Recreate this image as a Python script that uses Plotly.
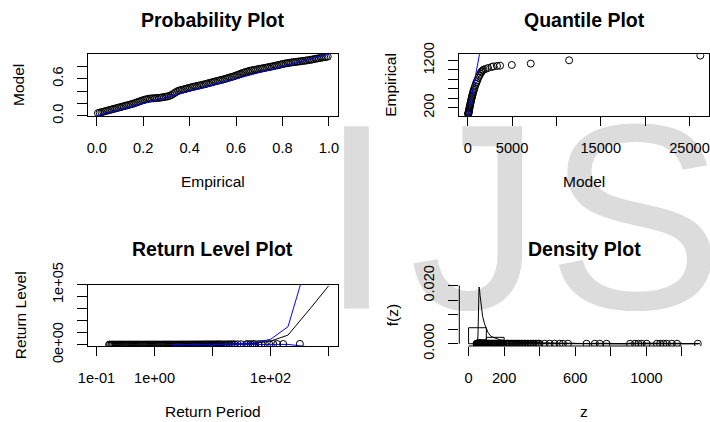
import plotly.graph_objects as go

W, H = 710, 422
FONT = "Liberation Sans, Arial, sans-serif"

# ---------------- data ----------------
# Probability plot: empirical vs model non-exceedance probabilities
pp_empirical = [0.005, 0.0125, 0.02, 0.0275, 0.035, 0.0425, 0.05, 0.0575, 0.065, 0.0725,
                0.08, 0.0875, 0.095, 0.1025, 0.11, 0.1175, 0.125, 0.1325, 0.14, 0.1475,
                0.155, 0.1625, 0.17, 0.1775, 0.185, 0.1925, 0.2, 0.2075, 0.215, 0.2225,
                0.23, 0.2375, 0.245, 0.2525, 0.26, 0.2675, 0.275, 0.2825, 0.29, 0.2975,
                0.305, 0.3125, 0.32, 0.3275, 0.335, 0.3425, 0.35, 0.3575, 0.365, 0.3725,
                0.38, 0.3875, 0.395, 0.4025, 0.41, 0.4175, 0.425, 0.4325, 0.44, 0.4475,
                0.455, 0.4625, 0.47, 0.4775, 0.485, 0.4925, 0.5, 0.5075, 0.515, 0.5225,
                0.53, 0.5375, 0.545, 0.5525, 0.56, 0.5675, 0.575, 0.5825, 0.59, 0.5975,
                0.605, 0.6125, 0.62, 0.6275, 0.635, 0.6425, 0.65, 0.6575, 0.665, 0.6725,
                0.68, 0.6875, 0.695, 0.7025, 0.71, 0.7175, 0.725, 0.7325, 0.74, 0.7475,
                0.755, 0.7625, 0.77, 0.7775, 0.785, 0.7925, 0.8, 0.8075, 0.815, 0.8225,
                0.83, 0.8375, 0.845, 0.8525, 0.86, 0.8675, 0.875, 0.8825, 0.89, 0.8975,
                0.905, 0.9125, 0.92, 0.9275, 0.935, 0.9425, 0.95, 0.9575, 0.965, 0.9725,
                0.98, 0.9875, 0.995]
pp_model = [0.045, 0.052, 0.06, 0.067, 0.075, 0.082, 0.09, 0.097, 0.105, 0.112,
            0.12, 0.127, 0.135, 0.142, 0.15, 0.157, 0.165, 0.172, 0.18, 0.187,
            0.195, 0.205, 0.215, 0.225, 0.235, 0.245, 0.255, 0.263, 0.27, 0.276,
            0.28, 0.283, 0.285, 0.288, 0.29, 0.292, 0.295, 0.3, 0.305, 0.31,
            0.315, 0.323, 0.335, 0.352, 0.37, 0.388, 0.405, 0.413, 0.42, 0.428,
            0.435, 0.443, 0.45, 0.458, 0.465, 0.472, 0.478, 0.484, 0.49, 0.497,
            0.503, 0.51, 0.517, 0.525, 0.532, 0.54, 0.547, 0.555, 0.562, 0.569,
            0.576, 0.583, 0.59, 0.598, 0.607, 0.615, 0.624, 0.632, 0.64, 0.65,
            0.66, 0.671, 0.682, 0.693, 0.703, 0.712, 0.72, 0.728, 0.735, 0.74,
            0.745, 0.751, 0.757, 0.762, 0.767, 0.772, 0.778, 0.783, 0.789, 0.794,
            0.8, 0.806, 0.812, 0.819, 0.826, 0.832, 0.839, 0.845, 0.85, 0.855,
            0.859, 0.864, 0.868, 0.872, 0.875, 0.879, 0.882, 0.886, 0.89, 0.894,
            0.898, 0.903, 0.907, 0.912, 0.918, 0.924, 0.93, 0.935, 0.941, 0.945,
            0.95, 0.955, 0.96]

# Quantile plot: model quantiles vs empirical quantiles
qq_model = [55, 64, 75, 86, 97, 113, 130, 152, 174, 201, 229, 262, 296, 331, 366,
            402, 440, 478, 518, 560, 604, 650, 698, 765, 840, 930, 990, 1070, 1190,
            1320, 1430, 1520, 1580, 1700, 1800, 2000, 2290, 2700, 2900, 3300, 3650,
            4970, 7110, 11430, 26220]
qq_empirical = [62, 70, 80, 90, 100, 115, 130, 150, 170, 195, 220, 250, 280, 310,
                340, 370, 400, 430, 460, 490, 520, 550, 580, 620, 663, 710, 738,
                776, 830, 880, 920, 950, 968, 990, 1005, 1020, 1041, 1062, 1075,
                1083, 1090, 1105, 1133, 1203, 1303]

# Observations (sorted), shared by the return level and density panels
z_obs = [45, 47, 49, 51, 53, 54, 55, 56, 57, 58, 58.5, 59, 59.5, 60, 60.5, 61, 61.5,
         62, 62.5, 63, 63.5, 64, 64.5, 65, 65.5, 66, 67, 67.5, 68, 69, 69.5, 70, 71,
         71.5, 72, 73, 74, 74.5, 75, 76, 77, 78, 79, 80, 81, 82, 83, 84, 85, 86, 87,
         88, 89, 90, 91, 92, 93, 94, 95, 96, 97, 98, 99, 100,
         104, 108, 112, 116, 120, 125, 130, 135, 140, 145, 150, 156, 162, 168, 174,
         180, 186, 192, 197,
         205, 212, 219, 226, 233, 241, 249, 257, 265, 273, 281, 289, 297, 305, 313,
         321, 330, 339, 348, 357, 366, 375, 384, 392,
         399, 428, 456, 484, 512, 531, 559, 663, 710, 738, 776, 908, 936, 955, 974,
         1002, 1059, 1077, 1096, 1115, 1143, 1172, 1289]
# empirical return periods of the sorted observations
rl_period = [0.165, 0.171, 0.18, 0.187, 0.194, 0.204, 0.213, 0.221, 0.232, 0.241,
             0.25, 0.262, 0.274, 0.285, 0.296, 0.31, 0.324, 0.336, 0.352, 0.368,
             0.382, 0.4, 0.415, 0.434, 0.452, 0.473, 0.492, 0.515, 0.535, 0.56,
             0.582, 0.61, 0.633, 0.662, 0.69, 0.72, 0.749, 0.783, 0.815, 0.852,
             0.887, 0.927, 0.965, 1.01, 1.05, 1.1, 1.14, 1.19, 1.24, 1.3,
             1.35, 1.41, 1.47, 1.53, 1.6, 1.67, 1.74, 1.81, 1.89, 1.97,
             2.06, 2.15, 2.24, 2.34, 2.44, 2.54, 2.65, 2.76, 2.88, 3.01,
             3.14, 3.27, 3.41, 3.56, 3.71, 3.87, 4.04, 4.21, 4.39, 4.58,
             4.78, 4.98, 5.2, 5.42, 5.65, 5.9, 6.15, 6.42, 6.69, 6.98,
             7.28, 7.59, 7.92, 8.26, 8.61, 8.98, 9.37, 9.77, 10.2, 10.6,
             11.1, 11.6, 12.1, 12.6, 13.1, 13.7, 14.3,
             15.3, 16.3, 17.4, 18.5, 19.7, 21, 22.5, 24, 27, 31, 38, 41, 45, 50, 53,
             62, 70, 80, 95, 111, 130, 165, 320]
# fitted return levels and confidence bounds
rl_curve_period = [2, 5, 10, 20, 50, 100, 200, 500, 1000]
rl_estimate = [150, 300, 480, 800, 1900, 6000, 16000, 62000, 98000]
rl_upper = [160, 330, 560, 1000, 2800, 9000, 30000, 160000, 400000]
rl_lower = [140, 270, 400, 600, 1000, 1200, 500, -4000, -15000]

# Density plot: histogram and fitted density
hist_mid = [50, 150, 250, 350, 450, 550, 650, 750, 850, 950, 1050, 1150, 1250]
hist_width = 100
hist_density = [0.0055, 0.0022, 0.0008, 0.0004, 0.0002, 0.00015, 0.0001, 0.00015,
                0.0, 0.0002, 0.0002, 0.00015, 0.00005]
dens_z = [45, 50, 53, 55, 57, 59, 61, 65, 70, 79, 90, 98, 110, 126, 150, 173, 211,
          260, 320, 400, 500, 700, 1000, 1290]
dens_f = [0, 0.0002, 0.003, 0.010, 0.017, 0.0195, 0.019, 0.0165, 0.013, 0.0094,
          0.0068, 0.0054, 0.0038, 0.0025, 0.0018, 0.0014, 0.0010, 0.0006, 0.0004,
          0.0002, 0.00012, 0.00005, 0.00002, 0.00001]

# tick values and labels (overlapping labels left blank)
pp_xticks = [0.0, 0.2, 0.4, 0.6, 0.8, 1.0]
pp_xlabels = ["0.0", "0.2", "0.4", "0.6", "0.8", "1.0"]
pp_yticks = [0.0, 0.2, 0.4, 0.6, 0.8]
pp_ylabels = ["0.0", "", "", "0.6", ""]
qq_xticks = [0, 5000, 10000, 15000, 20000, 25000]
qq_xlabels = ["0", "5000", "", "15000", "", "25000"]
qq_yticks = [200, 400, 600, 800, 1000, 1200]
qq_ylabels = ["200", "", "", "", "", "1200"]
rl_xticks = [0.1, 1, 10, 100, 1000]
rl_xlabels = ["1e-01", "1e+00", "", "1e+02", ""]
rl_yticks = [0, 20000, 40000, 60000, 80000, 100000]
rl_ylabels = ["0e+00", "", "", "", "", "1e+05"]
dn_xticks = [0, 200, 400, 600, 800, 1000, 1200]
dn_xlabels = ["0", "200", "", "600", "", "1000", ""]
dn_yticks = [0.0, 0.005, 0.010, 0.015, 0.020]
dn_ylabels = ["0.000", "", "", "", "0.020"]

# background lettering, one glyph per entry (centre x, baseline y in pixels)
mark_letters = ["I", "J", "S"]
mark_x = [356.5, 475.5, 635.2]
mark_baseline = 335
mark_size = 265

# ---------------- layout helpers ----------------
def fx(px):
    return px / W


def fy(py):
    return 1 - py / H


LEFT = (87.5, 338.2)
RIGHT = (459.3, 709.0)
TOP = (54.3, 116.3)
BOTTOM = (284.7, 346.0)

pt = dict(mode="markers", showlegend=False, hoverinfo="skip",
          marker=dict(symbol="circle-open", size=7, color="black",
                      line=dict(width=1, color="black")))

fig = go.Figure()

fig.add_trace(go.Scatter(x=mark_x, y=[mark_baseline - 0.35 * mark_size] * len(mark_x),
                         mode="text", text=mark_letters, textposition="middle center",
                         cliponaxis=False,
                         textfont=dict(family=FONT, size=mark_size, color="#dcdcdc"),
                         showlegend=False, hoverinfo="skip", xaxis="x", yaxis="y"))

# probability plot
fig.add_trace(go.Scatter(x=pp_empirical, y=pp_model, xaxis="x2", yaxis="y2", **pt))
fig.add_trace(go.Scatter(x=[-0.1, 1.1], y=[-0.1, 1.1], mode="lines", xaxis="x2", yaxis="y2",
                         line=dict(color="blue", width=1), showlegend=False, hoverinfo="skip"))

# quantile plot
fig.add_trace(go.Scatter(x=qq_model, y=qq_empirical, xaxis="x3", yaxis="y3", **pt))
fig.add_trace(go.Scatter(x=[0, 30000], y=[0, 30000], mode="lines", xaxis="x3", yaxis="y3",
                         line=dict(color="blue", width=1), showlegend=False, hoverinfo="skip"))

# return level plot
fig.add_trace(go.Scatter(x=rl_period, y=z_obs, xaxis="x4", yaxis="y4", **pt))
fig.add_trace(go.Scatter(x=rl_curve_period, y=rl_estimate, mode="lines", xaxis="x4", yaxis="y4",
                         line=dict(color="black", width=1), showlegend=False, hoverinfo="skip"))
for bound in (rl_upper, rl_lower):
    fig.add_trace(go.Scatter(x=rl_curve_period, y=bound, mode="lines", xaxis="x4", yaxis="y4",
                             line=dict(color="blue", width=1), showlegend=False,
                             hoverinfo="skip"))

# density plot
fig.add_trace(go.Bar(x=hist_mid, y=hist_density, width=hist_width, xaxis="x5", yaxis="y5",
                     marker=dict(color="rgba(0,0,0,0)", line=dict(color="black", width=1)),
                     showlegend=False, hoverinfo="skip"))
fig.add_trace(go.Scatter(x=dens_z, y=dens_f, mode="lines", xaxis="x5", yaxis="y5",
                         line=dict(color="black", width=1), showlegend=False, hoverinfo="skip"))
fig.add_trace(go.Scatter(x=z_obs, y=[0] * len(z_obs), xaxis="x5", yaxis="y5", **pt))

tickfont = dict(family=FONT, size=14.6, color="black")
base = dict(showgrid=False, zeroline=False, ticks="outside", tickcolor="black",
            tickwidth=1, tickfont=tickfont, linecolor="black", linewidth=1,
            tickmode="array", automargin=False)


def xax(dom, rng, vals, labels, anchor, box=True, **kw):
    d = dict(base, domain=[fx(dom[0]), fx(dom[1])], range=rng, tickvals=vals,
             ticktext=labels, anchor=anchor, ticklen=9, ticklabelstandoff=9,
             showline=box, mirror=box)
    d.update(kw)
    return d


def yax(dom, rng, vals, labels, anchor, box=True, **kw):
    d = dict(base, domain=[fy(dom[1]), fy(dom[0])], range=rng, tickvals=vals,
             ticktext=labels, anchor=anchor, ticklen=10, tickangle=-90,
             ticklabelstandoff=8, showline=box, mirror=box)
    d.update(kw)
    return d


fig.update_layout(
    template="none",
    width=W, height=H, margin=dict(l=0, r=0, t=0, b=0, pad=0), autosize=False,
    paper_bgcolor="white", plot_bgcolor="rgba(0,0,0,0)", barmode="overlay",
    font=dict(family=FONT, color="black"), showlegend=False,
    xaxis=dict(domain=[0, 1], range=[0, W], visible=False, fixedrange=True, automargin=False),
    yaxis=dict(domain=[0, 1], range=[H, 0], visible=False, fixedrange=True, automargin=False),
    xaxis2=xax(LEFT, [-0.04, 1.04], pp_xticks, pp_xlabels, "y2"),
    yaxis2=yax(TOP, [-0.007, 0.997], pp_yticks, pp_ylabels, "x2"),
    xaxis3=xax(RIGHT, [-947, 27198], qq_xticks, qq_xlabels, "y3"),
    yaxis3=yax(TOP, [20, 1330], qq_yticks, qq_ylabels, "x3"),
    xaxis4=xax(LEFT, [-1.155, 3.166], rl_xticks, rl_xlabels, "y4", type="log"),
    yaxis4=yax(BOTTOM, [-2170, 100000], rl_yticks, rl_ylabels, "x4"),
    xaxis5=xax(RIGHT, [-52, 1352], dn_xticks, dn_xlabels, "y5", box=False),
    yaxis5=yax(BOTTOM, [-0.00078, 0.02028], dn_yticks, dn_ylabels, "x5", box=False),
)

# density plot axis lines span only the tick range
fig.add_shape(type="line", xref="x5", yref="y5 domain", x0=min(dn_xticks), x1=max(dn_xticks),
              y0=0, y1=0, line=dict(color="black", width=1))
fig.add_shape(type="line", xref="x5 domain", yref="y5", x0=0, x1=0, y0=min(dn_yticks),
              y1=max(dn_yticks), line=dict(color="black", width=1))

titles = [("Probability Plot", 212.8, 19.5), ("Quantile Plot", 584.2, 19.7),
          ("Return Level Plot", 212.8, 249.3), ("Density Plot", 584.2, 249.3)]
for text, x, y in titles:
    fig.add_annotation(text="<b>%s</b>" % text, x=fx(x), y=fy(y), xref="paper", yref="paper",
                       showarrow=False, xanchor="center", yanchor="middle",
                       font=dict(family=FONT, size=19.5, color="black"))

xlabels = [("Empirical", 212.8, 181.7), ("Model", 584.2, 181.7),
           ("Return Period", 212.8, 411.8), ("z", 584.2, 411.4)]
for text, x, y in xlabels:
    fig.add_annotation(text=text, x=fx(x), y=fy(y), xref="paper", yref="paper",
                       showarrow=False, xanchor="center", yanchor="middle",
                       font=dict(family=FONT, size=15.5, color="black"))

ylabels = [("Model", 18.7, 85.3), ("Empirical", 390.5, 85.3),
           ("Return Level", 20.0, 315.3), ("f(z)", 392.0, 315.3)]
for text, x, y in ylabels:
    fig.add_annotation(text=text, x=fx(x), y=fy(y), xref="paper", yref="paper",
                       showarrow=False, xanchor="center", yanchor="middle", textangle=-90,
                       font=dict(family=FONT, size=15.5, color="black"))

fig.write_html("out.html")
